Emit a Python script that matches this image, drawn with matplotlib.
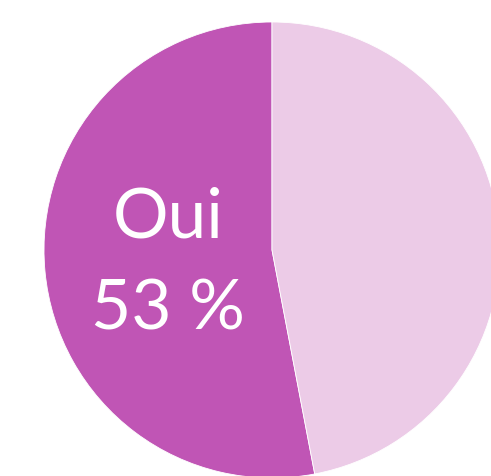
import matplotlib
matplotlib.use("Agg")
import matplotlib.pyplot as plt

# Données
categories = ['Oui', 'Non']
valeurs = [53, 47]
couleurs = ['#C055B5', '#ECCBE7']

fig = plt.figure(figsize=(4.91, 4.76), dpi=100)
ax = fig.add_axes([0, 0, 1, 1])
ax.set_aspect('equal')
ax.axis('off')

# Camembert (coupé par le bord de l'image)
ax.pie(valeurs, colors=couleurs, startangle=90, counterclock=True,
       radius=228, center=(272, 226),
       wedgeprops=dict(edgecolor='white', linewidth=0.6))
ax.set_xlim(0, 491)
ax.set_ylim(0, 476)

# Étiquette de la part "Oui"
ax.text(168, 238, categories[0], color='white', fontsize=50,
        family='Lato', ha='center', va='baseline')
ax.text(168, 146, f"{valeurs[0]} %", color='white', fontsize=50,
        family='Lato', ha='center', va='baseline')

fig.savefig('out.png', dpi=100)
